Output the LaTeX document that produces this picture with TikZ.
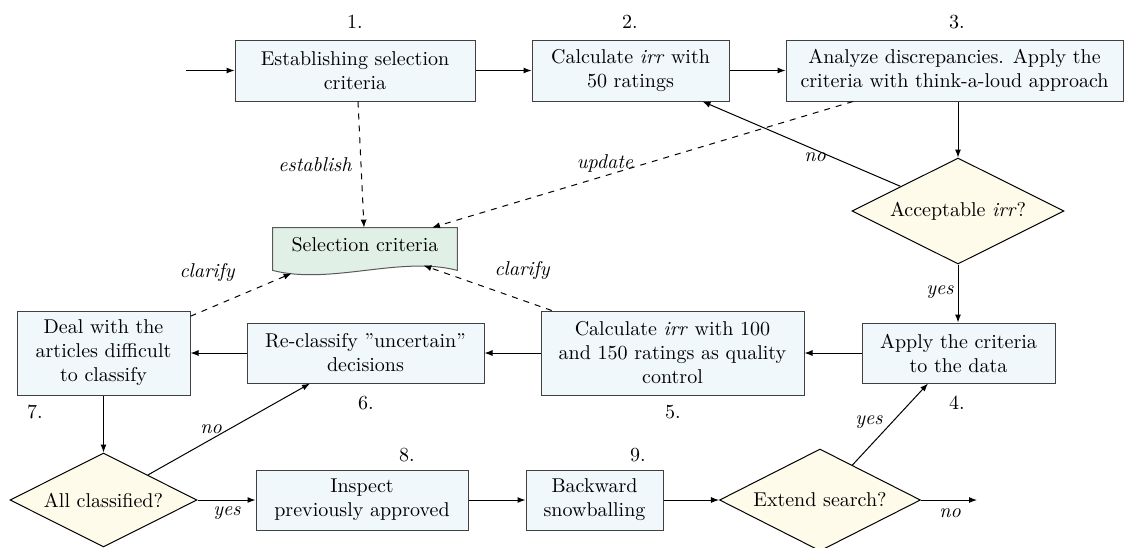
\documentclass[tikz,border=0pt]{standalone}
\usetikzlibrary{shapes.geometric,arrows.meta,calc}
\definecolor{boxfill}{HTML}{F0F8FC}
\definecolor{diafill}{HTML}{FEFBEA}
\definecolor{docfill}{HTML}{E1F0E7}
\begin{document}
\begin{tikzpicture}[x=0.5pt,y=-0.5pt,
  box/.style={draw=black!75, fill=boxfill, align=center, inner sep=0pt, line width=0.5pt},
  dia/.style={diamond, draw=black, fill=diafill, inner sep=0pt, aspect=2, line width=0.5pt},
  arr/.style={-{Latex[length=4pt,width=3pt]}, line width=0.5pt},
  darr/.style={arr, dashed},
  lbl/.style={font=\itshape, inner sep=1pt},
  num/.style={inner sep=0pt}]
\useasboundingbox (0,0) rectangle (1125,547);

% process boxes
\node[box, minimum width=120pt, minimum height=30.5pt] (b1) at (355,70.5) {Establishing selection\\criteria};
\node[box, minimum width=98.5pt, minimum height=30.5pt] (b2) at (630.5,70.5) {Calculate \textit{irr} with\\50 ratings};
\node[box, minimum width=168.5pt, minimum height=30.5pt] (b3) at (954.5,70.5) {Analyze discrepancies. Apply the\\criteria with think-a-loud approach};
\node[dia, minimum width=106pt, minimum height=53pt] (acc) at (958,211) {Acceptable \textit{irr}?};
\node[box, minimum width=96.5pt, minimum height=30pt] (b4) at (958.5,353) {Apply the criteria\\to the data};
\node[box, minimum width=131.5pt, minimum height=42pt] (b5) at (672.5,353) {Calculate \textit{irr} with 100\\and 150 ratings as quality\\control};
\node[box, minimum width=118.5pt, minimum height=30pt] (b6) at (365.5,353) {Re-classify \textquotedblright uncertain\textquotedblright\\decisions};
\node[box, minimum width=86.5pt, minimum height=42pt] (b7) at (103.5,353) {Deal with the\\articles difficult\\to classify};
\node[dia, minimum width=93.5pt, minimum height=47pt] (all) at (103.5,500) {All classified?};
\node[box, minimum width=106pt, minimum height=30pt] (b8) at (362,500) {Inspect\\previously approved};
\node[box, minimum width=68.5pt, minimum height=30pt] (b9) at (594.5,500) {Backward\\snowballing};
\node[dia, minimum width=100.5pt, minimum height=51pt] (ext) at (820,500) {Extend search?};

% document shape
\node[minimum width=92pt, minimum height=21pt, inner sep=0pt] (doc) at (365,249) {};
\draw[draw=black!65, fill=docfill, line width=0.5pt]
  (doc.north west) -- (doc.north east) -- (doc.south east)
  .. controls ($(doc.south east)+(-57,-15)$) and ($(doc.south east)+(-127,15)$) .. (doc.south west) -- cycle;
\node[inner sep=0pt] (doctext) at (365,245) {Selection criteria};

% step numbers
\node[num] (n1) at (355,22) {1.};
\node[num] (n2) at (630,22) {2.};
\node[num] (n3) at (957,22) {3.};
\node[num] (n4) at (957,403) {4.};
\node[num] (n5) at (673,412) {5.};
\node[num] (n6) at (366,403) {6.};
\node[num] (n7) at (35,412) {7.};
\node[num] (n8) at (407,455) {8.};
\node[num] (n9) at (638,455) {9.};

% coordinates
\coordinate (start) at (186,70.5);
\coordinate (end) at (977,500);
\coordinate (docL) at ([xshift=9.5pt,yshift=-1.5pt]doc.south west);
\coordinate (docR) at ([xshift=-17pt,yshift=2.5pt]doc.south east);

% solid connectors
\draw[arr] (start) -- (b1);
\draw[arr] (b1) -- (b2);
\draw[arr] (b2) -- (b3);
\draw[arr] (acc.north |- b3.south) -- (acc.north);
\draw[arr] (acc) -- ([xshift=36pt]b2.south);
\draw[arr] (acc.south) -- (acc.south |- b4.north);
\draw[arr] (b4) -- (b5);
\draw[arr] (b5) -- (b6);
\draw[arr] (b6) -- (b7);
\draw[arr] (b7) -- (all);
\draw[arr] (all) -- ([xshift=-27.75pt]b6.south);
\draw[arr] (all) -- (b8);
\draw[arr] (b8) -- (b9);
\draw[arr] (b9) -- (ext);
\draw[arr] (ext) -- ([xshift=-15.25pt]b4.south);
\draw[arr] (ext) -- (end);

% dashed connectors
\draw[darr] ([xshift=1.5pt]b1.south) -- ([xshift=-0.5pt]doc.north);
\draw[darr] ([xshift=-50.75pt]b3.south) -- ([xshift=33.5pt]doc.north);
\draw[darr] (b7) -- (docL);
\draw[darr] (b5) -- (docR);

% edge labels
\node[lbl] (l1) at (315,165) {establish};
\node[lbl] (l2) at (605,163) {update};
\node[lbl] (l3) at (815,157) {no};
\node[lbl] (l4) at (940,292) {yes};
\node[lbl] (l5) at (207,272) {clarify};
\node[lbl] (l6) at (522,270) {clarify};
\node[lbl] (l7) at (211,429) {no};
\node[lbl] (l8) at (227,513) {yes};
\node[lbl] (l9) at (869,422) {yes};
\node[lbl] (l10) at (950,513) {no};
\end{tikzpicture}
\end{document}
